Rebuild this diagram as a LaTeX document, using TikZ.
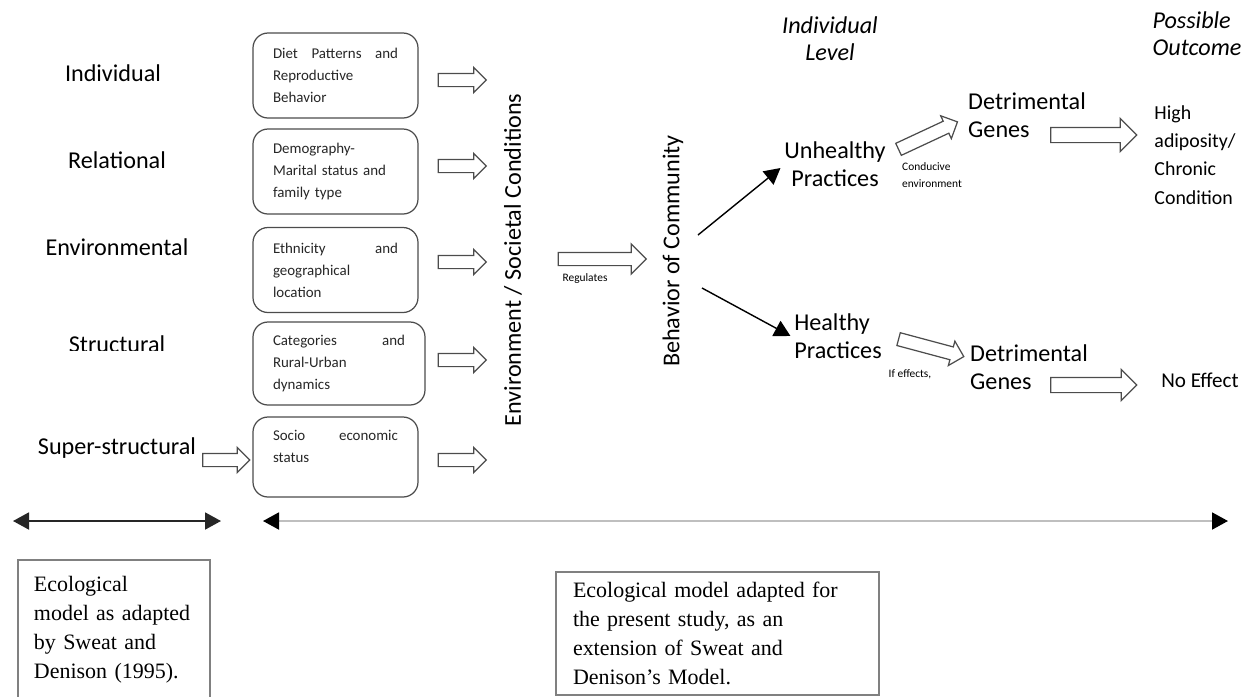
\documentclass[tikz,border=0pt]{standalone}
\usepackage{fontspec}
\setmainfont{Liberation Serif}
\newfontfamily\calib{Carlito}
\usetikzlibrary{arrows.meta,shapes.arrows}

\tikzset{
  tier/.style={font=\calib\fontsize{13.75}{16}\selectfont, inner sep=2pt},
  heading/.style={font=\calib\itshape\fontsize{13.75}{15.5}\selectfont, inner sep=2pt},
  factor/.style={draw=black!70, line width=0.7pt, rounded corners=3mm, inner xsep=4mm, inner ysep=0pt,
    text width=25mm, minimum height=17mm, align=left, font=\calib\fontsize{8.5}{12.5}\selectfont, text=black!85},
  fatarrow/.style={single arrow, draw=black!70, line width=0.7pt, inner xsep=0pt, inner ysep=1.2mm,
    single arrow head extend=1.2mm, minimum height=#1},
  smallnote/.style={font=\calib\fontsize{6.5}{9.5}\selectfont, align=left, inner sep=1pt},
  notebox/.style={draw=black!50, line width=0.8pt, align=left, font=\fontsize{12.5}{16.5}\selectfont},
  bigtip/.tip={Triangle[length=3.2mm,width=3.4mm]},
}

\begin{document}
\begin{tikzpicture}[x=0.2mm,y=-0.2mm]
	\useasboundingbox (0,0) rectangle (1254,696);
	% levels of the original model
	\node[tier] (indiv) at (113,73) {Individual};
	\node[tier] (rel) at (117,160) {Relational};
	\node[tier] (envl) at (117,247) {Environmental};
	\begin{scope}
		\clip (0,300) rectangle (240,350);
		\node[tier, anchor=base] (struct) at (117,352) {Structural};
	\end{scope}
	\node[tier] (super) at (117,448) {Super-structural};
	\node[fatarrow=9.4mm] (sa) at (223,460) {};

	% factors
	\node[factor] (diet) at (335.5,75.5) {Diet\hfill Patterns\hfill and\\Reproductive\\Behavior};
	\node[factor] (demo) at (335.5,171.5) {Demography-\\Marital status and\\family type};
	\node[factor] (ethnic) at (335.5,270) {Ethnicity\hfill and\\geographical\\location};
	\node[factor, text width=26.4mm, minimum height=16.6mm] (rural) at (339,363.5) {Categories\hfill and\\Rural-Urban\\dynamics};
	\node[factor, minimum height=16mm] (socio) at (335.5,457) {Socio\hfill economic\\status\\\mbox{}};
	\foreach \y/\n in {80/a1,166/a2,262/a3,360/a4,460/a5}
		\node[fatarrow=9.6mm] (\n) at (459,\y) {};

	% community
	\node[tier, rotate=90] (cond) at (513,260) {Environment / Societal Conditions};
	\node[fatarrow=17.6mm, single arrow head extend=1.7mm] (reg) at (599,259) {};
	\node[smallnote] (regl) at (585,279) {Regulates};
	\node[tier, rotate=90] (behav) at (673,251) {Behavior of Community};
	\coordinate (bup) at (698,235);
	\coordinate (bdown) at (702,288);

	% individual level
	\node[heading, align=center] (indlev) at (830,39) {Individual\\Level};
	\node[heading, align=left] (outc) at (1197,34) {Possible\\Outcome};
	\node[tier, align=center] (unhealthy) at (835,164) {Unhealthy\\Practices};
	\node[tier, align=left] (healthy) at (838,336) {Healthy\\Practices};
	\draw[-bigtip, line width=0.8pt] (bup) -- ([yshift=-0.8mm]unhealthy.west);
	\draw[-bigtip, line width=0.8pt] (bdown) -- (healthy.west);

	\node[fatarrow=13mm, rotate=25] (ua) at (925,137) {};
	\node[smallnote] (cenv) at (932,175) {Conducive\\environment};
	\node[tier, align=left] (badup) at (1027,115) {Detrimental\\Genes};
	\node[fatarrow=17.2mm, inner ysep=1.4mm, single arrow head extend=1.8mm] (ba) at (1090,135) {};
	\node[align=left, font=\calib\fontsize{11.3}{16.1}\selectfont] (high) at (1195,155) {High\\adiposity/\\Chronic\\Condition};

	\node[fatarrow=13.5mm, rotate=-15] (ha) at (928,347) {};
	\node[smallnote] (ifeff) at (910,374) {If effects,};
	\node[tier, align=left] (baddown) at (1029,367) {Detrimental\\Genes};
	\node[fatarrow=17.2mm, inner ysep=1.4mm, single arrow head extend=1.6mm] (na) at (1090,385) {};
	\node[font=\calib\fontsize{12}{14}\selectfont] (noeff) at (1200,380) {No Effect};

	% scope arrows
	\coordinate (l1) at (13,521);
	\coordinate (l2) at (221,521);
	\coordinate (r1) at (263,521);
	\coordinate (r2) at (1228,521);
	\draw[bigtip-bigtip, line width=1.1pt, black!85] (l1) -- (l2);
	\draw[{Triangle[length=3.2mm,width=3.4mm,color=black]}-{Triangle[length=3.2mm,width=3.4mm,color=black]}, line width=1.1pt, black!25] (r1) -- (r2);

	% captions
	\node[notebox, text width=32mm, inner xsep=3.2mm, minimum height=28mm] (oldmodel) at (114,630)
		{Ecological\\model as adapted\\by Sweat and\\Denison (1995).};
	\node[notebox, text width=57.8mm, inner xsep=3.4mm, minimum height=24.6mm] (newmodel) at (717.5,633.5)
		{Ecological model adapted for\\the present study, as an\\extension of Sweat and\\Denison's Model.};
\end{tikzpicture}
\end{document}
